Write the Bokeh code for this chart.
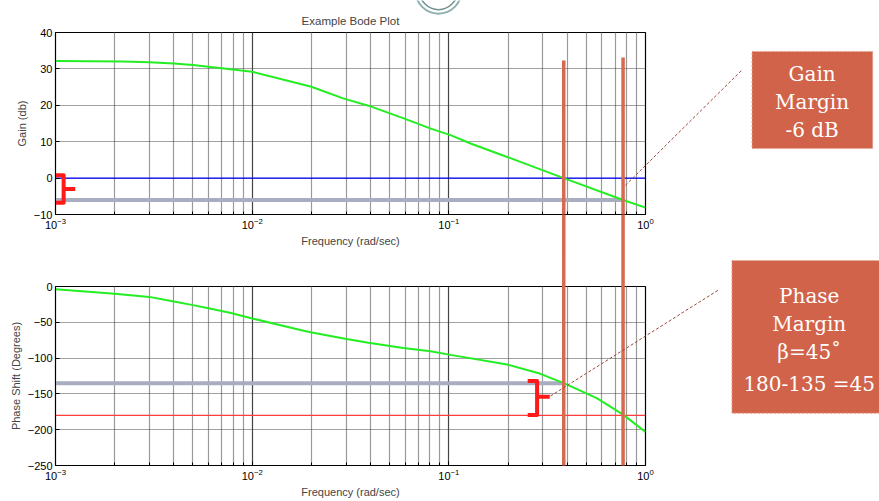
from bokeh.plotting import figure
from bokeh.layouts import column
from bokeh.models import Range1d, FixedTicker, LogTickFormatter, Grid
from bokeh.core.properties import value
from bokeh.embed import file_html
from bokeh.resources import INLINE

# ---------------- data ----------------
decades = [1e-3, 1e-2, 1e-1, 1e0]
minor_mult = [2, 3, 4, 5, 6, 7, 8, 9]
minor_freqs = [m * d for d in decades[:-1] for m in minor_mult]

gain_ticks = [-10, 0, 10, 20, 30, 40]
phase_ticks = [-250, -200, -150, -100, -50, 0]

freq_gain = [0.001, 0.0022, 0.003, 0.004, 0.005, 0.007, 0.01, 0.02, 0.029,
             0.039, 0.059, 0.081, 0.102, 0.129, 0.198, 0.384, 0.769, 1.0]
gain_db = [32.2, 32.0, 31.8, 31.5, 31.1, 30.2, 29.2, 25.1, 21.9,
           19.9, 16.4, 13.6, 11.8, 9.5, 5.8, 0.0, -6.0, -8.1]

freq_phase = [0.001, 0.002, 0.003, 0.004, 0.005, 0.006, 0.0078, 0.01, 0.0176,
              0.0198, 0.0297, 0.039, 0.0587, 0.0806, 0.102, 0.198, 0.29,
              0.384, 0.565, 0.769, 1.0]
phase_deg = [-4, -10, -14.5, -21, -26, -30.5, -37, -44.6, -60.7,
             -64, -73, -78.7, -86, -90.5, -95.5, -109, -121.6,
             -135, -156, -179, -203]

gain_crossover = 0.384      # rad/s, gain = 0 dB
phase_crossover = 0.769     # rad/s, phase = -180 deg
unity_gain_db = 0
gain_margin_db = -6
phase_at_gc = -135
phase_ref = -180

gain_box_text = ["Gain", "Margin", "-6 dB"]
gain_box_text_y = [28.7, 21.0, 13.3]
phase_box_text = ["Phase", "Margin", "\u03b2=45\u02da", "180-135 =45"]
phase_box_text_y = [-13, -52.4, -91.7, -135.5]

# ---------------- style / geometry ----------------
W, H = 879, 501
FRAME_L, FRAME_R = 55, 645
GAIN_TOP, GAIN_BOT = 32, 214
PHASE_TOP, PHASE_BOT = 286, 465

FONT = "Liberation Sans"
SERIF = "DejaVu Serif"
GREEN = "#22ee22"
ORANGE = "#d6694f"
GRAYLINE = "#a8aec0"
BRACE = "#ff1a1a"
BOXFILL = "#d1634a"
CONNECT = "#9b4a3a"


def make_fig(height, top, bottom, yr, yticks, ylabel, title=None):
    p = figure(width=W, height=height, x_axis_type="log",
               x_range=Range1d(decades[0], decades[-1]),
               y_range=Range1d(*yr), output_backend="svg",
               toolbar_location=None, min_border_left=FRAME_L,
               min_border_right=W - FRAME_R, min_border_top=top,
               min_border_bottom=bottom, title=title)
    p.outline_line_color = "black"
    p.outline_line_width = 1.2
    xt = FixedTicker(ticks=decades, minor_ticks=minor_freqs)
    yt = FixedTicker(ticks=yticks)
    xa = p.xaxis[0]
    xa.ticker = xt
    xa.formatter = LogTickFormatter()
    xa.axis_label = "Frequency (rad/sec)"
    ya = p.yaxis[0]
    ya.ticker = yt
    ya.axis_label = ylabel
    for ax in (xa, ya):
        ax.axis_label_text_font = FONT
        ax.axis_label_text_font_size = "11px"
        ax.axis_label_text_font_style = "normal"
        ax.major_label_text_font = FONT
        ax.major_label_text_font_size = "11px"
        ax.major_label_text_color = "black"
        ax.major_tick_in = 4
        ax.major_tick_out = 0
        ax.minor_tick_in = 3
        ax.minor_tick_out = 0
        ax.axis_line_color = "black"
        ax.major_label_standoff = 3
        ax.axis_label_standoff = 3
    ya.minor_tick_line_color = None
    p.xgrid.ticker = xt
    p.ygrid.ticker = yt
    p.xgrid.grid_line_color = "#444444"
    p.xgrid.grid_line_width = 1.2
    p.xgrid.minor_grid_line_color = "#9a9a9a"
    p.xgrid.minor_grid_line_width = 1.2
    p.ygrid.grid_line_color = "#444444"
    p.ygrid.grid_line_dash = "1 1"
    p.ygrid.grid_line_width = 1
    return p


# ---------------- top: gain ----------------
p1 = make_fig(255, GAIN_TOP, 255 - GAIN_BOT, (gain_ticks[0], gain_ticks[-1]),
              gain_ticks, "Gain (db)", title="Example Bode Plot")
p1.title.align = "center"
p1.title.text_font = FONT
p1.title.text_font_size = "11.5px"
p1.title.text_font_style = "normal"
p1.title.standoff = 12

p1.line([decades[0], phase_crossover], [gain_margin_db, gain_margin_db],
        line_color=GRAYLINE, line_width=4)
p1.line([decades[0], decades[-1]], [unity_gain_db, unity_gain_db],
        line_color="#0000ff", line_width=1.2)
p1.line(freq_gain, gain_db, line_color=GREEN, line_width=2)

bx = [decades[0], 1.1e-3, 1.1e-3, decades[0]]
p1.line(bx, [unity_gain_db + 0.8, unity_gain_db + 0.8,
             gain_margin_db - 0.8, gain_margin_db - 0.8],
        line_color=BRACE, line_width=4, line_join="round")
p1.line([1.1e-3, 1.26e-3], [gain_margin_db / 2, gain_margin_db / 2],
        line_color=BRACE, line_width=4)

# ---------------- bottom: phase ----------------
p2 = make_fig(H - 255, PHASE_TOP - 255, H - PHASE_BOT,
              (phase_ticks[0], phase_ticks[-1]), phase_ticks,
              "Phase Shift (Degrees)")

p2.line([decades[0], gain_crossover], [phase_at_gc, phase_at_gc],
        line_color=GRAYLINE, line_width=4)
p2.line([decades[0], decades[-1]], [phase_ref, phase_ref],
        line_color="#ff3c3c", line_width=1.2)
p2.line(freq_phase, phase_deg, line_color=GREEN, line_width=2)

bx2 = [0.2518, 0.281, 0.281, 0.2518]
p2.line(bx2, [-131.9, -131.9, -179.4, -179.4], line_color=BRACE,
        line_width=4, line_join="round")
p2.line([0.281, 0.326], [-154, -154], line_color=BRACE, line_width=4)

# ---------------- overlay spanning the whole page ----------------
ppd = (FRAME_R - FRAME_L) / 3.0                     # px per decade
gppu = (GAIN_BOT - GAIN_TOP) / 50.0                 # px per dB
pppu = (PHASE_BOT - PHASE_TOP) / 250.0              # px per degree
ov_x = Range1d(10 ** (-3 - FRAME_L / ppd), 10 ** ((W - FRAME_R) / ppd))
ov_gain = Range1d(-10 - (H - GAIN_BOT) / gppu, 40 + GAIN_TOP / gppu)
ov_phase = Range1d(-250 - (H - PHASE_BOT) / pppu, PHASE_TOP / pppu)

ov = figure(width=W, height=H, x_axis_type="log", x_range=ov_x,
            y_range=ov_gain, output_backend="svg", toolbar_location=None,
            min_border=0, x_axis_location=None, y_axis_location=None,
            outline_line_color=None)
ov.background_fill_alpha = 0
ov.border_fill_alpha = 0
for g in ov.center:
    if isinstance(g, Grid):
        g.grid_line_color = None
        g.minor_grid_line_color = None
        g.visible = False
ov.extra_y_ranges = {"phase": ov_phase}
ov.styles = {"position": "absolute", "top": "0px", "left": "0px"}

# decorative logo rings at top
ov.circle([0.0886, 0.0886], [51.5, 51.5], radius=[23, 19],
          radius_units="screen", fill_color=None,
          line_color=["#8fb0b0", "#6f9090"], line_width=[2, 1.5])

# orange marker lines crossing both plots
for fx, ytop in [(gain_crossover, 32.3), (phase_crossover, 33.1)]:
    ov.segment([fx], [ytop], [fx], [gain_ticks[0]], line_color=ORANGE,
               line_width=3.5)
    ov.segment([fx], [100], [fx], [phase_ticks[0]], line_color=ORANGE,
               line_width=3.5, y_range_name="phase")

# connectors
ov.segment([0.79], [-2.0], [3.1], [29.75], line_color=CONNECT, line_width=1,
           line_dash="3 2")
ov.segment([0.3285], [-153], [2.38], [-3.9], line_color=CONNECT,
           line_width=1, line_dash="3 2", y_range_name="phase")

# annotation boxes
ov.quad(left=[3.48], right=[14.3], top=[34.8], bottom=[8.1],
        fill_color=BOXFILL, line_color="#e8a896", line_dash="2 2",
        line_width=1)
ov.quad(left=[2.75], right=[15.5], top=[36.3], bottom=[-177],
        fill_color=BOXFILL, line_color="#e8a896", line_dash="2 2",
        line_width=1, y_range_name="phase")
ov.text([7.03] * len(gain_box_text), gain_box_text_y, text=gain_box_text,
        text_align="center", text_baseline="middle", text_color="white",
        text_font=value(SERIF), text_font_size="20px")
ov.text([6.8] * len(phase_box_text), phase_box_text_y, text=phase_box_text,
        text_align="center", text_baseline="middle", text_color="white",
        text_font=value(SERIF), text_font_size="20px", y_range_name="phase")

layout = column(p1, p2, spacing=0)
open("out.html", "w").write(file_html([layout, ov], INLINE))
